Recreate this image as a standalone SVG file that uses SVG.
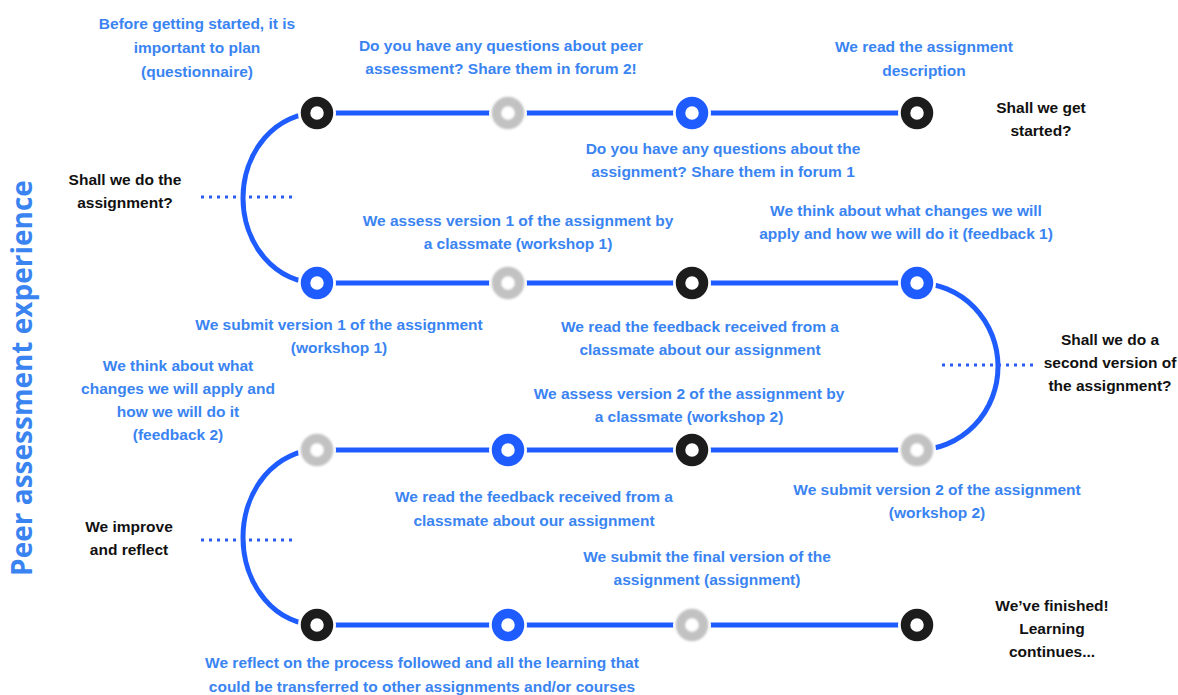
<svg xmlns="http://www.w3.org/2000/svg" width="1178" height="695" viewBox="0 0 1178 695">
<defs>
<style>
.ln{fill:none;stroke:#1f5cff;stroke-width:5}
.dot{fill:none;stroke:#2a5cf0;stroke-width:3;stroke-dasharray:3 5}
.gap{fill:#fff}
.blk{fill:#fff;stroke:#1c1c1c;stroke-width:9.5}
.blu{fill:#fff;stroke:#1f5cff;stroke-width:9.5}
.gry{fill:#fff;stroke:#c2c2c2;stroke-width:9.5}
.t{font-family:"Liberation Sans",Arial,sans-serif;font-weight:bold;font-size:15.5px;text-anchor:middle;fill:#3a84f2}
.k{font-family:"Liberation Sans",Arial,sans-serif;font-weight:bold;font-size:15.5px;text-anchor:middle;fill:#111}
.title{font-family:"Open Sans","Liberation Sans",sans-serif;font-weight:bold;font-size:28px;text-anchor:middle;fill:#3a84f2}
</style>
<filter id="blur" x="-50%" y="-50%" width="200%" height="200%"><feGaussianBlur stdDeviation="1.2"/></filter>
</defs>
<rect width="1178" height="695" fill="#fff"/>
<g id="connectors">
<path class="ln" d="M317 113 H917"/>
<path class="ln" d="M317 283 H917"/>
<path class="ln" d="M317 450 H917"/>
<path class="ln" d="M317 625 H917"/>
<path class="ln" d="M317 113 A74 85 0 0 0 317 283"/>
<path class="ln" d="M917 283 A81 83.5 0 0 1 917 450"/>
<path class="ln" d="M317 450 A74 87.5 0 0 0 317 625"/>
<path class="dot" d="M201 197 H292"/>
<path class="dot" d="M942 365 H1033"/>
<path class="dot" d="M201 540 H292"/>
</g>
<g id="n1a"><circle class="gap" cx="317" cy="113" r="19"/><circle class="blk" cx="317" cy="113" r="11.5"/></g>
<g id="n1b"><circle class="gap" cx="508" cy="113" r="19"/><circle class="gry" cx="508" cy="113" r="11.5" filter="url(#blur)"/></g>
<g id="n1c"><circle class="gap" cx="692" cy="113" r="19"/><circle class="blu" cx="692" cy="113" r="11.5"/></g>
<g id="n1d"><circle class="gap" cx="917" cy="113" r="19"/><circle class="blk" cx="917" cy="113" r="11.5"/></g>
<g id="n2a"><circle class="gap" cx="317" cy="283" r="19"/><circle class="blu" cx="317" cy="283" r="11.5"/></g>
<g id="n2b"><circle class="gap" cx="508" cy="283" r="19"/><circle class="gry" cx="508" cy="283" r="11.5" filter="url(#blur)"/></g>
<g id="n2c"><circle class="gap" cx="692" cy="283" r="19"/><circle class="blk" cx="692" cy="283" r="11.5"/></g>
<g id="n2d"><circle class="gap" cx="917" cy="283" r="19"/><circle class="blu" cx="917" cy="283" r="11.5"/></g>
<g id="n3a"><circle class="gap" cx="317" cy="450" r="19"/><circle class="gry" cx="317" cy="450" r="11.5" filter="url(#blur)"/></g>
<g id="n3b"><circle class="gap" cx="508" cy="450" r="19"/><circle class="blu" cx="508" cy="450" r="11.5"/></g>
<g id="n3c"><circle class="gap" cx="692" cy="450" r="19"/><circle class="blk" cx="692" cy="450" r="11.5"/></g>
<g id="n3d"><circle class="gap" cx="917" cy="450" r="19"/><circle class="gry" cx="917" cy="450" r="11.5" filter="url(#blur)"/></g>
<g id="n4a"><circle class="gap" cx="317" cy="625" r="19"/><circle class="blk" cx="317" cy="625" r="11.5"/></g>
<g id="n4b"><circle class="gap" cx="508" cy="625" r="19"/><circle class="blu" cx="508" cy="625" r="11.5"/></g>
<g id="n4c"><circle class="gap" cx="692" cy="625" r="19"/><circle class="gry" cx="692" cy="625" r="11.5" filter="url(#blur)"/></g>
<g id="n4d"><circle class="gap" cx="917" cy="625" r="19"/><circle class="blk" cx="917" cy="625" r="11.5"/></g>
<g id="labels">
<text class="title" transform="translate(32 378) rotate(-90)">Peer assessment experience</text>
<text class="t" x="197" y="29">Before getting started, it is</text>
<text class="t" x="197" y="53">important to plan</text>
<text class="t" x="197" y="77">(questionnaire)</text>
<text class="t" x="501" y="51">Do you have any questions about peer</text>
<text class="t" x="501" y="74">assessment? Share them in forum 2!</text>
<text class="t" x="924" y="52">We read the assignment</text>
<text class="t" x="924" y="76">description</text>
<text class="k" x="1041" y="113">Shall we get</text>
<text class="k" x="1041" y="136">started?</text>
<text class="t" x="723" y="154">Do you have any questions about the</text>
<text class="t" x="723" y="177">assignment? Share them in forum 1</text>
<text class="k" x="125" y="185">Shall we do the</text>
<text class="k" x="125" y="208">assignment?</text>
<text class="t" x="518" y="226">We assess version 1 of the assignment by</text>
<text class="t" x="518" y="249">a classmate (workshop 1)</text>
<text class="t" x="906" y="216">We think about what changes we will</text>
<text class="t" x="906" y="239">apply and how we will do it (feedback 1)</text>
<text class="t" x="339" y="330">We submit version 1 of the assignment</text>
<text class="t" x="339" y="353">(workshop 1)</text>
<text class="t" x="700" y="332">We read the feedback received from a</text>
<text class="t" x="700" y="355">classmate about our assignment</text>
<text class="k" x="1110" y="345">Shall we do a</text>
<text class="k" x="1110" y="368">second version of</text>
<text class="k" x="1110" y="391">the assignment?</text>
<text class="t" x="178" y="371">We think about what</text>
<text class="t" x="178" y="394">changes we will apply and</text>
<text class="t" x="178" y="417">how we will do it</text>
<text class="t" x="178" y="440">(feedback 2)</text>
<text class="t" x="689" y="399">We assess version 2 of the assignment by</text>
<text class="t" x="689" y="422">a classmate (workshop 2)</text>
<text class="t" x="534" y="502">We read the feedback received from a</text>
<text class="t" x="534" y="526">classmate about our assignment</text>
<text class="t" x="937" y="495">We submit version 2 of the assignment</text>
<text class="t" x="937" y="518">(workshop 2)</text>
<text class="k" x="129" y="532">We improve</text>
<text class="k" x="129" y="555">and reflect</text>
<text class="t" x="707" y="562">We submit the final version of the</text>
<text class="t" x="707" y="585">assignment (assignment)</text>
<text class="k" x="1052" y="611">We’ve finished!</text>
<text class="k" x="1052" y="634">Learning</text>
<text class="k" x="1052" y="657">continues...</text>
<text class="t" x="422" y="668">We reflect on the process followed and all the learning that</text>
<text class="t" x="422" y="692">could be transferred to other assignments and/or courses</text>
</g>
</svg>
